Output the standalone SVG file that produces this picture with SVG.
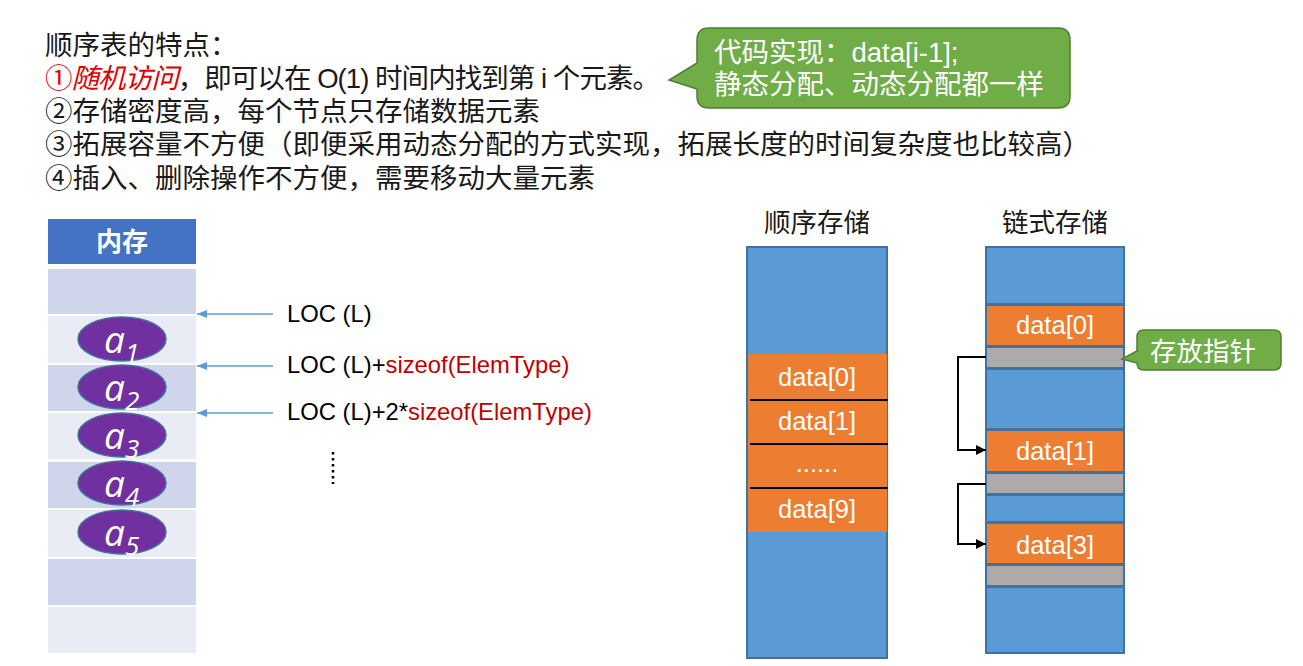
<svg xmlns="http://www.w3.org/2000/svg" width="1303" height="666" viewBox="0 0 1303 666">
<style>
.cjk{font-family:"Noto Sans CJK SC",sans-serif;}
.main{font-family:"Liberation Sans","Noto Sans CJK SC",sans-serif;font-size:27.5px;fill:#1a1a1a;}
.red{fill:#E00000;}
.wt{fill:#fff;}
.lbl{font-family:"Liberation Sans",sans-serif;font-size:23.8px;fill:#000;}
.kw{fill:#C00000;}
.dat{font-family:"Liberation Sans",sans-serif;font-size:25.5px;fill:#fff;text-anchor:middle;}
.ell{fill:#7030A0;stroke:#41719C;stroke-width:1.5;}
.av{font-family:"Open Sans",sans-serif;font-style:italic;font-size:37px;fill:#fff;}
.c1{fill:#CFD5EA;}
.c2{fill:#E9EBF5;}
.blue{fill:#5B9BD5;stroke:#41719C;stroke-width:2;}
.orng{fill:#ED7D31;stroke:#41719C;stroke-width:2;}
.gray{fill:#AEAAAA;stroke:#41719C;stroke-width:2;}
.callout{fill:#70AD47;stroke:#507E32;stroke-width:1.5;}
.barrow{stroke:#5B9BD5;stroke-width:1.5;fill:none;}
.karrow{stroke:#000;stroke-width:2;fill:none;}
</style>
<defs>
<marker id="bh" viewBox="0 0 10 8" refX="10" refY="4" markerWidth="10" markerHeight="8" markerUnits="userSpaceOnUse" orient="auto">
<path d="M0,0 L10,4 L0,8 Z" fill="#5B9BD5"/>
</marker>
<marker id="kh" viewBox="0 0 10 10" refX="10" refY="5" markerWidth="10" markerHeight="10" markerUnits="userSpaceOnUse" orient="auto">
<path d="M0,0 L10,5 L0,10 Z" fill="#000"/>
</marker>
</defs>

<g id="intro">
<text class="main" x="45" y="55">顺序表的特点：</text>
<text class="main" x="45" y="88" textLength="615" lengthAdjust="spacing"><tspan class="red">①</tspan><tspan class="red" font-style="italic">随机访问</tspan>，即可以在 O(1) 时间内找到第 i 个元素。</text>
<text class="main" x="45" y="121">②存储密度高，每个节点只存储数据元素</text>
<text class="main" x="45" y="154">③拓展容量不方便（即便采用动态分配的方式实现，拓展长度的时间复杂度也比较高）</text>
<text class="main" x="45" y="188">④插入、删除操作不方便，需要移动大量元素</text>
</g>

<g id="callout-code">
<path class="callout" d="M709,28 H1058 Q1070,28 1070,40 V96 Q1070,108 1058,108 H709 Q697,108 697,96 V89 L669,80 L697,63 V40 Q697,28 709,28 Z"/>
<text class="main wt" x="714" y="62">代码实现：data[i-1];</text>
<text class="main wt" x="714" y="94">静态分配、动态分配都一样</text>
</g>

<g id="memory">
<rect x="48" y="219" width="148" height="45" fill="#4472C4"/>
<text class="cjk" x="122" y="251" font-size="26" font-weight="bold" fill="#fff" text-anchor="middle">内存</text>
<rect class="c1" x="48" y="269" width="148" height="45"/>
<rect class="c2" x="48" y="316" width="148" height="47"/>
<rect class="c1" x="48" y="365" width="148" height="46"/>
<rect class="c2" x="48" y="413" width="148" height="46"/>
<rect class="c1" x="48" y="462" width="148" height="46"/>
<rect class="c2" x="48" y="510" width="148" height="47"/>
<rect class="c1" x="48" y="559" width="148" height="46"/>
<rect class="c2" x="48" y="607" width="148" height="46"/>
</g>

<g id="elements">
<ellipse class="ell" cx="122" cy="339" rx="44" ry="22"/>
<text class="av" x="104" y="353">a<tspan font-size="26" dy="9">1</tspan></text>
<ellipse class="ell" cx="122" cy="387" rx="44" ry="22"/>
<text class="av" x="104" y="401">a<tspan font-size="26" dy="9">2</tspan></text>
<ellipse class="ell" cx="122" cy="435" rx="44" ry="22"/>
<text class="av" x="104" y="449">a<tspan font-size="26" dy="9">3</tspan></text>
<ellipse class="ell" cx="122" cy="483" rx="44" ry="22"/>
<text class="av" x="104" y="497">a<tspan font-size="26" dy="9">4</tspan></text>
<ellipse class="ell" cx="122" cy="532" rx="44" ry="22"/>
<text class="av" x="104" y="546">a<tspan font-size="26" dy="9">5</tspan></text>
</g>

<g id="loc-labels">
<text class="lbl" x="287" y="322">LOC (L)</text>
<text class="lbl" x="287" y="373">LOC (L)+<tspan class="kw">sizeof(ElemType)</tspan></text>
<text class="lbl" x="287" y="420">LOC (L)+2*<tspan class="kw">sizeof(ElemType)</tspan></text>
<line x1="333" y1="452" x2="333" y2="484" stroke="#000" stroke-width="2.5" stroke-dasharray="2.5 3.5"/>
</g>

<g id="seq-storage">
<text class="cjk" x="817" y="232" font-size="26.5" fill="#1a1a1a" text-anchor="middle">顺序存储</text>
<rect class="blue" x="747" y="247" width="140" height="411"/>
<rect x="748" y="354" width="139" height="178" fill="#ED7D31"/>
<line x1="750" y1="400" x2="888" y2="400" stroke="#000" stroke-width="2"/>
<line x1="750" y1="444" x2="888" y2="444" stroke="#000" stroke-width="2"/>
<line x1="750" y1="488" x2="888" y2="488" stroke="#000" stroke-width="2"/>
<text class="dat" x="817" y="386">data[0]</text>
<text class="dat" x="817" y="430">data[1]</text>
<text class="dat" x="817" y="472">......</text>
<text class="dat" x="817" y="518">data[9]</text>
</g>

<g id="linked-storage">
<text class="cjk" x="1055" y="232" font-size="26.5" fill="#1a1a1a" text-anchor="middle">链式存储</text>
<rect class="blue" x="986" y="247" width="138" height="57"/>
<rect class="orng" x="986" y="305" width="138" height="41"/>
<rect class="gray" x="986" y="347" width="138" height="21"/>
<rect class="blue" x="986" y="369" width="138" height="60"/>
<rect class="orng" x="986" y="430" width="138" height="42"/>
<rect class="gray" x="986" y="473" width="138" height="21"/>
<rect class="blue" x="986" y="495" width="138" height="27"/>
<rect class="orng" x="986" y="523" width="138" height="41"/>
<rect class="gray" x="986" y="565" width="138" height="21"/>
<rect class="blue" x="986" y="587" width="138" height="66"/>
<text class="dat" x="1055" y="334">data[0]</text>
<text class="dat" x="1055" y="460">data[1]</text>
<text class="dat" x="1055" y="554">data[3]</text>
</g>

<g id="callout-pointer">
<path class="callout" d="M1144,330 H1274 Q1281,330 1281,337 V363 Q1281,370 1274,370 H1144 Q1137,370 1137,363 L1122,359 L1137,351 V337 Q1137,330 1144,330 Z"/>
<text class="cjk" x="1150" y="361" font-size="26.5" fill="#fff">存放指针</text>
</g>

<g id="connectors">
<line class="barrow" x1="273" y1="314" x2="197" y2="314" marker-end="url(#bh)"/>
<line class="barrow" x1="273" y1="366" x2="197" y2="366" marker-end="url(#bh)"/>
<line class="barrow" x1="273" y1="413" x2="197" y2="413" marker-end="url(#bh)"/>
<path class="karrow" d="M986,357 H958 V450 H986" marker-end="url(#kh)"/>
<path class="karrow" d="M986,484 H958 V544 H986" marker-end="url(#kh)"/>
</g>
</svg>
